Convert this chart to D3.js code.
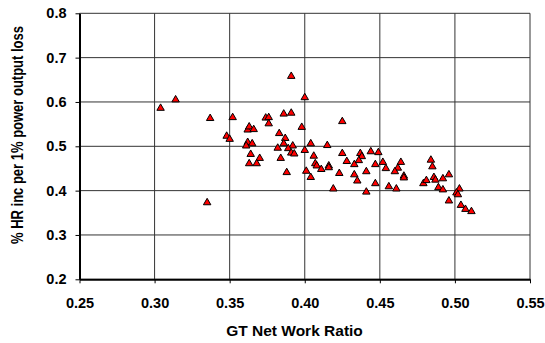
<!DOCTYPE html>
<html>
<head>
<meta charset="utf-8">
<script src="https://cdn.jsdelivr.net/npm/d3@7"></script>
<style>
	body { margin: 0; background: #fff; }
	text { font-family: "Liberation Sans", Arial, sans-serif; font-weight: bold; }
</style>
</head>
<body>
<div id="chart"></div>
<script>
//GT net work ratio (x) vs % HR increase per 1% power output loss (y)
const workRatio = [
	0.304, 0.314, 0.337, 0.335, 0.352, 0.348, 0.350, 0.362, 0.363, 0.366,
	0.374, 0.376, 0.376, 0.386, 0.391, 0.383, 0.362, 0.361, 0.365, 0.387,
	0.386, 0.392, 0.382, 0.389, 0.391, 0.393, 0.364, 0.370, 0.384, 0.363,
	0.368, 0.388, 0.391, 0.400, 0.398, 0.425, 0.404, 0.415, 0.400, 0.406,
	0.425, 0.437, 0.438, 0.436, 0.444, 0.449, 0.407, 0.408, 0.416, 0.416,
	0.428, 0.433, 0.411, 0.447, 0.452, 0.464, 0.401, 0.423, 0.433, 0.441,
	0.454, 0.462, 0.460, 0.466, 0.466, 0.404, 0.435, 0.479, 0.481, 0.419,
	0.441, 0.447, 0.456, 0.461, 0.484, 0.485, 0.496, 0.492, 0.486, 0.487,
	0.489, 0.492, 0.503, 0.501, 0.502, 0.496, 0.504, 0.507, 0.511
];
const hrIncrease = [
	0.586, 0.605, 0.563, 0.373, 0.565, 0.523, 0.516, 0.537, 0.544, 0.538,
	0.564, 0.565, 0.551, 0.573, 0.575, 0.529, 0.509, 0.501, 0.506, 0.518,
	0.506, 0.501, 0.496, 0.495, 0.485, 0.483, 0.482, 0.473, 0.473, 0.461,
	0.461, 0.441, 0.658, 0.610, 0.543, 0.556, 0.506, 0.502, 0.491, 0.478,
	0.484, 0.484, 0.477, 0.468, 0.488, 0.486, 0.461, 0.456, 0.456, 0.452,
	0.466, 0.459, 0.448, 0.459, 0.464, 0.464, 0.444, 0.439, 0.436, 0.443,
	0.450, 0.451, 0.443, 0.433, 0.429, 0.430, 0.422, 0.416, 0.423, 0.404,
	0.397, 0.416, 0.409, 0.404, 0.469, 0.454, 0.436, 0.427, 0.430, 0.424,
	0.407, 0.402, 0.404, 0.395, 0.391, 0.377, 0.367, 0.358, 0.353
];
const xTicks = [0.25, 0.30, 0.35, 0.40, 0.45, 0.50, 0.55];
const yTicks = [0.2, 0.3, 0.4, 0.5, 0.6, 0.7, 0.8];

const data = workRatio.map(function(d, i){ return {x: d, y: hrIncrease[i]}; });

const w = 545;
const h = 343;
const plot = d3.select('#chart').append('svg')
	.attr('width', w)
	.attr('height', h);

//Scales
const x = d3.scaleLinear().domain([0.25, 0.55]).range([79.5, 530]);
const y = d3.scaleLinear().domain([0.2, 0.8]).range([279.3, 13.3]);

//Gridlines
plot.append('g')
	.selectAll('line')
	.data(yTicks)
	.enter()
	.append('line')
	.attr('x1', x(0.25)).attr('x2', x(0.55))
	.attr('y1', d => y(d)).attr('y2', d => y(d))
	.style('stroke', '#333')
	.style('stroke-width', '1px');

plot.append('g')
	.selectAll('line')
	.data(xTicks)
	.enter()
	.append('line')
	.attr('x1', d => x(d)).attr('x2', d => x(d))
	.attr('y1', y(0.2)).attr('y2', y(0.8))
	.style('stroke', '#333')
	.style('stroke-width', '1px');

//Axes
const yAxis = d3.axisLeft(y)
	.tickValues(yTicks)
	.tickFormat(d3.format('.1f'))
	.tickSize(4)
	.tickSizeOuter(0)
	.tickPadding(9);

const xAxis = d3.axisBottom(x)
	.tickValues(xTicks)
	.tickFormat(d3.format('.2f'))
	.tickSize(4)
	.tickSizeOuter(0)
	.tickPadding(14);

plot.append('g')
	.attr('transform', `translate(${x(0.25)},0)`)
	.call(yAxis)
	.call(g => g.select('.domain').style('stroke-width', '2px'))
	.call(g => g.selectAll('text').style('font-size', '14.5px').style('fill', '#000'));

plot.append('g')
	.attr('transform', `translate(0,${y(0.2)})`)
	.call(xAxis)
	.call(g => g.select('.domain').style('stroke-width', '2px'))
	.call(g => g.selectAll('text').style('font-size', '14.5px').style('fill', '#000'));

//Points
const triangle = d3.symbol().type(d3.symbolTriangle).size(24);

plot.selectAll('.pt')
	.data(data)
	.enter()
	.append('path')
	.attr('class', 'pt')
	.attr('d', triangle)
	.attr('transform', d => `translate(${x(d.x)},${y(d.y)})`)
	.style('fill', '#ff0000')
	.style('stroke', '#000')
	.style('stroke-width', '1px');

//Axis titles
plot.append('text')
	.attr('x', 294.5)
	.attr('y', 336)
	.attr('text-anchor', 'middle')
	.style('font-size', '15.5px')
	.text('GT Net Work Ratio');

//the source picture is stretched sideways, so widen the rotated title a bit
plot.append('text')
	.attr('transform', 'translate(22.5,135) scale(1.3,1) rotate(-90)')
	.attr('text-anchor', 'middle')
	.style('font-size', '13px')
	.text('% HR inc per 1% power output loss');
</script>
</body>
</html>
